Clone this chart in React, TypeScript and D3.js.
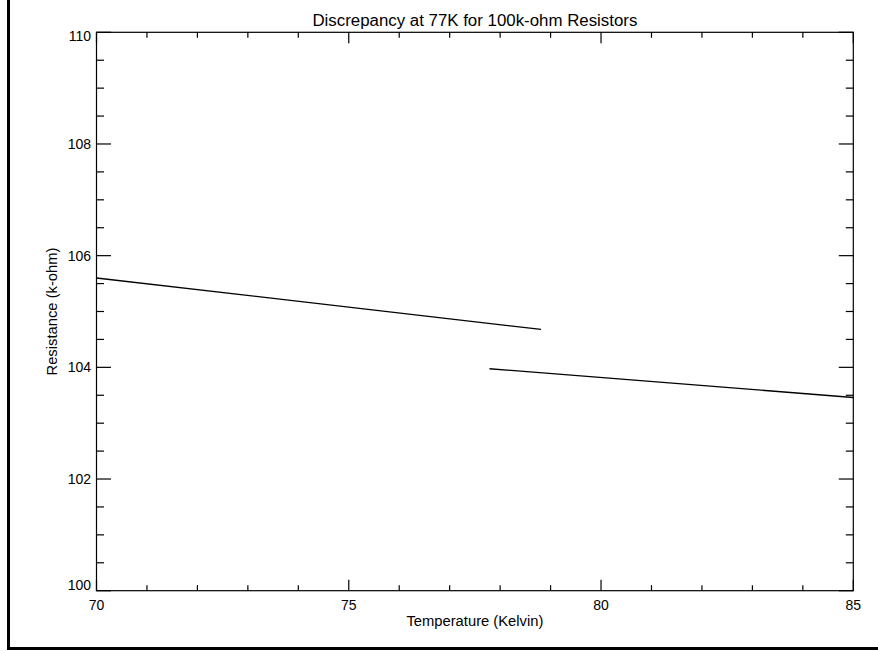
import React from "react";
import * as d3 from "d3";

const title = "Discrepancy at 77K for 100k-ohm Resistors";
const xTitle = "Temperature (Kelvin)";
const yTitle = "Resistance (k-ohm)";

const xDomain = [70, 85];
const yDomain = [100, 110];
const xMajorTicks = [70, 75, 80, 85];
const xMinorTicks = [71, 72, 73, 74, 76, 77, 78, 79, 81, 82, 83, 84];
const yMajorTicks = [100, 102, 104, 106, 108, 110];
const yMinorTicks = [100.5, 101, 101.5, 102.5, 103, 103.5, 104.5, 105, 105.5, 106.5, 107, 107.5, 108.5, 109, 109.5];

// Two line segments (temperature, resistance)
const seg1Temp = [70, 78.81];
const seg1Res = [105.6, 104.68];
const seg2Temp = [77.79, 85];
const seg2Res = [103.975, 103.46];

const W = 878;
const H = 651;
const left = 96.5;
const right = 853.3;
const top = 32.3;
const bottom = 590.7;

export default function App() {
  const x = d3.scaleLinear().domain(xDomain).range([left, right]);
  const y = d3.scaleLinear().domain(yDomain).range([bottom, top]);
  const line = d3
    .line<[number, number]>()
    .x((d) => x(d[0]))
    .y((d) => y(d[1]));
  const s1: [number, number][] = seg1Temp.map((t, i) => [t, seg1Res[i]]);
  const s2: [number, number][] = seg2Temp.map((t, i) => [t, seg2Res[i]]);
  const font = "'Liberation Sans', Arial, sans-serif";
  const xMaj = 11, xMin = 5.5, yMaj = 14.5, yMin = 7.5;

  const yLabelBaseline = (v: number) => {
    if (v === yDomain[1]) return y(v) + 9;
    if (v === yDomain[0]) return y(v) - 0.5;
    return y(v) + 5;
  };

  return (
    <svg
      width={W}
      height={H}
      style={{ position: "absolute", left: 0, top: 0, background: "#fff" }}
      fontFamily={font}
    >
      <rect x={0} y={0} width={W} height={H} fill="#fff" />
      {/* outer frame (left and bottom edges visible) */}
      <rect x={8.5} y={-10} width={900} height={658.5} fill="none" stroke="#000" strokeWidth={3} />

      {/* title */}
      <text x={(left + right) / 2} y={26} textAnchor="middle" fontSize={16} textLength={325} lengthAdjust="spacingAndGlyphs">
        {title}
      </text>

      {/* plot box */}
      <rect x={left} y={top} width={right - left} height={bottom - top} fill="none" stroke="#000" strokeWidth={1.2} />

      {/* x ticks */}
      {xMajorTicks.map((v) => (
        <g key={"xM" + v}>
          <line x1={x(v)} x2={x(v)} y1={bottom} y2={bottom - xMaj} stroke="#000" strokeWidth={1.2} />
          <line x1={x(v)} x2={x(v)} y1={top} y2={top + xMaj} stroke="#000" strokeWidth={1.2} />
          <text x={x(v)} y={610} textAnchor="middle" fontSize={14}>
            {v}
          </text>
        </g>
      ))}
      {xMinorTicks.map((v) => (
        <g key={"xm" + v}>
          <line x1={x(v)} x2={x(v)} y1={bottom} y2={bottom - xMin} stroke="#000" strokeWidth={1.2} />
          <line x1={x(v)} x2={x(v)} y1={top} y2={top + xMin} stroke="#000" strokeWidth={1.2} />
        </g>
      ))}

      {/* y ticks */}
      {yMajorTicks.map((v) => (
        <g key={"yM" + v}>
          <line x1={left} x2={left + yMaj} y1={y(v)} y2={y(v)} stroke="#000" strokeWidth={1.2} />
          <line x1={right} x2={right - yMaj} y1={y(v)} y2={y(v)} stroke="#000" strokeWidth={1.2} />
          <text x={91} y={yLabelBaseline(v)} textAnchor="end" fontSize={14}>
            {v}
          </text>
        </g>
      ))}
      {yMinorTicks.map((v) => (
        <g key={"ym" + v}>
          <line x1={left} x2={left + yMin} y1={y(v)} y2={y(v)} stroke="#000" strokeWidth={1.2} />
          <line x1={right} x2={right - yMin} y1={y(v)} y2={y(v)} stroke="#000" strokeWidth={1.2} />
        </g>
      ))}

      {/* axis titles */}
      <text x={(left + right) / 2} y={626} textAnchor="middle" fontSize={14} textLength={137} lengthAdjust="spacingAndGlyphs">
        {xTitle}
      </text>
      <text
        transform={`translate(57,${(top + bottom) / 2}) rotate(-90)`}
        textAnchor="middle"
        fontSize={14}
        textLength={128}
        lengthAdjust="spacingAndGlyphs"
      >
        {yTitle}
      </text>

      {/* data */}
      <path d={line(s1) || ""} fill="none" stroke="#000" strokeWidth={1.3} />
      <path d={line(s2) || ""} fill="none" stroke="#000" strokeWidth={1.3} />
    </svg>
  );
}
